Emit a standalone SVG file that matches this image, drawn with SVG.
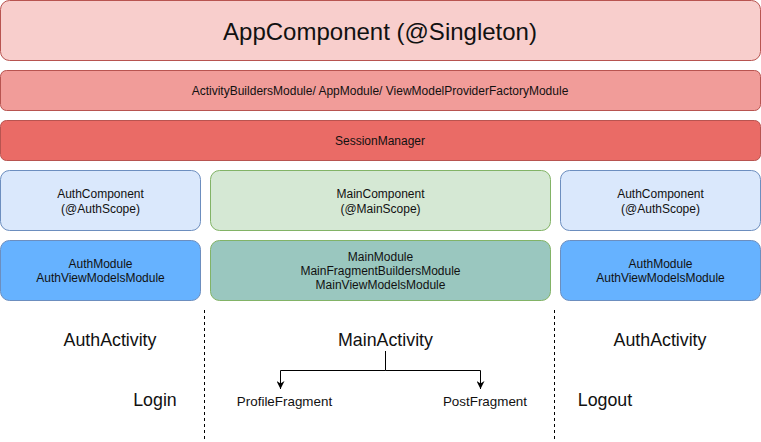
<svg xmlns="http://www.w3.org/2000/svg" width="761" height="442" viewBox="0 0 761 442">
<defs>
<style>
text{font-family:"Liberation Sans",Arial,sans-serif;fill:#111;text-anchor:middle}
.red{stroke:#b85450;stroke-width:1}
.blue{stroke:#6c8ebf;stroke-width:1}
.green{stroke:#82b366;stroke-width:1}
.s12{font-size:12px}
.s13{font-size:13.4px}
.s17{font-size:17.8px}
.conn{fill:none;stroke:#000;stroke-width:1}
.dash{fill:none;stroke:#000;stroke-width:1;stroke-dasharray:3 3}
</style>
<marker id="arr" viewBox="0 0 10 10" refX="10" refY="5" markerWidth="8" markerHeight="8" markerUnits="userSpaceOnUse" orient="auto">
<path d="M0,0 L10,5 L0,10 L3,5 Z" fill="#000"/>
</marker>
</defs>
<rect width="761" height="442" fill="#fff"/>
<g id="appComponent"><rect class="red" x="0.5" y="0.5" width="760" height="60" rx="9" fill="#f8cecc"/><text x="380" y="40" font-size="24">AppComponent (@Singleton)</text></g>
<g id="appModules"><rect class="red" x="0.5" y="70.5" width="760" height="40" rx="6" fill="#f19c99"/><text class="s12" x="380" y="94.5">ActivityBuildersModule/ AppModule/ ViewModelProviderFactoryModule</text></g>
<g id="sessionManager"><rect class="red" x="0.5" y="120.5" width="760" height="40" rx="6" fill="#ea6b66"/><text class="s12" x="380" y="144.5">SessionManager</text></g>
<g id="authComponentLeft"><rect class="blue" x="0.5" y="170.5" width="200" height="60" rx="9" fill="#dae8fc"/><text class="s12" x="100.5" y="198">AuthComponent</text><text class="s12" x="100.5" y="212.5">(@AuthScope)</text></g>
<g id="mainComponent"><rect class="green" x="210.5" y="170.5" width="340" height="60" rx="9" fill="#d5e8d4"/><text class="s12" x="380.5" y="198">MainComponent</text><text class="s12" x="380.5" y="212.5">(@MainScope)</text></g>
<g id="authComponentRight"><rect class="blue" x="560.5" y="170.5" width="200" height="60" rx="9" fill="#dae8fc"/><text class="s12" x="660.5" y="198">AuthComponent</text><text class="s12" x="660.5" y="212.5">(@AuthScope)</text></g>
<g id="authModuleLeft"><rect class="blue" x="0.5" y="240.5" width="200" height="60" rx="9" fill="#66b2ff"/><text class="s12" x="100.5" y="268">AuthModule</text><text class="s12" x="100.5" y="282">AuthViewModelsModule</text></g>
<g id="mainModule"><rect class="green" x="210.5" y="240.5" width="340" height="60" rx="9" fill="#9ac7bf"/><text class="s12" x="380.5" y="261">MainModule</text><text class="s12" x="380.5" y="275">MainFragmentBuildersModule</text><text class="s12" x="380.5" y="289">MainViewModelsModule</text></g>
<g id="authModuleRight"><rect class="blue" x="560.5" y="240.5" width="200" height="60" rx="9" fill="#66b2ff"/><text class="s12" x="660.5" y="268">AuthModule</text><text class="s12" x="660.5" y="282">AuthViewModelsModule</text></g>
<g id="authActivityLeft"><text class="s17" x="110" y="346">AuthActivity</text></g>
<g id="mainActivity"><text class="s17" x="385.5" y="346">MainActivity</text></g>
<g id="authActivityRight"><text class="s17" x="660" y="346">AuthActivity</text></g>
<g id="login"><text class="s17" x="155" y="406">Login</text></g>
<g id="logout"><text class="s17" x="605" y="406">Logout</text></g>
<g id="profileFragment"><text class="s13" x="284.5" y="405.5">ProfileFragment</text></g>
<g id="postFragment"><text class="s13" x="485" y="405.5">PostFragment</text></g>
<g id="connectors">
<path class="conn" d="M385.5,351 V370.5 H280.5 V389" marker-end="url(#arr)"/>
<path class="conn" d="M385.5,370.5 H480.5 V389" marker-end="url(#arr)"/>
<path class="dash" d="M204.5,310 V442"/>
<path class="dash" d="M554.5,310 V442"/>
</g>
</svg>
